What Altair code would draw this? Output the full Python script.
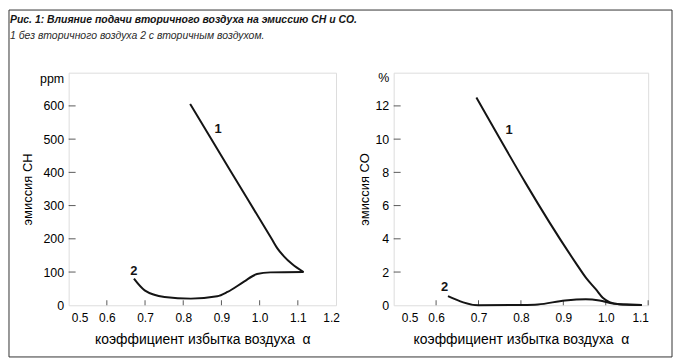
import altair as alt
import pandas as pd

# ---------------- data ----------------
# left panel: CH emission, ppm
ch1_alpha = [0.818, 0.925, 1.033, 1.046, 1.063, 1.085, 1.115]
ch1_ppm = [606, 402, 197, 172, 148, 124, 100]
ch2_alpha = [0.671, 0.699, 0.751, 0.820, 0.889, 0.916, 0.959, 0.993, 1.028, 1.115]
ch2_ppm = [80, 45, 25, 20, 27, 40, 71, 94, 99, 100]

# right panel: CO emission, %
co1_alpha = [0.695, 0.928, 0.955, 0.977, 0.993, 1.009, 1.033, 1.085]
co1_pct = [12.5, 2.6, 1.6, 0.95, 0.45, 0.19, 0.06, 0.02]
co2_alpha = [0.628, 0.700, 0.804, 0.840, 0.904, 0.953, 0.985, 1.017, 1.050, 1.085]
co2_pct = [0.55, 0.0, 0.02, 0.05, 0.29, 0.36, 0.29, 0.11, 0.04, 0.02]

curve_names = ["1", "2"]
ch_label_alpha = [0.891, 0.671]
ch_label_ppm = [530, 104]
co_label_alpha = [0.772, 0.620]
co_label_pct = [10.57, 1.11]

left_x_values = [0.5, 0.6, 0.7, 0.8, 0.9, 1.0, 1.1, 1.2]
left_y_values = [0, 100, 200, 300, 400, 500, 600, 700]
right_x_values = [0.5, 0.6, 0.7, 0.8, 0.9, 1.0, 1.1]
right_y_values = [0, 2, 4, 6, 8, 10, 12, 14]
left_x_ticks = [0.6, 0.7, 0.8, 0.9, 1.0, 1.1]
left_y_ticks = [100, 200, 300, 400, 500, 600]
right_x_ticks = [0.6, 0.7, 0.8, 0.9, 1.0, 1.1]
right_y_ticks = [2, 4, 6, 8, 10, 12]

title_text = "Рис. 1: Влияние подачи вторичного воздуха на эмиссию CH и CO."
subtitle_text = "1 без вторичного воздуха 2 с вторичным воздухом."
x_title = "коэффициент избытка воздуха\u00a0 α"

FONT = "Liberation Sans"
INK = "#141414"
W1, W2, H = 269, 256, 234


def curves_df(a1, v1, a2, v2):
    return pd.DataFrame({
        "alpha": list(a1) + list(a2),
        "val": list(v1) + list(v2),
        "curve": ["1"] * len(a1) + ["2"] * len(a2),
    })


def panel(df, lab_a, lab_v, xdom, ydom, xvals, yvals, xt, yt, ytitle, unit,
          top_val, x_first_off, x_last, x_last_off, unit_off, ytitle_pad):
    xs = alt.Scale(domain=xdom, nice=False, zero=False)
    ys = alt.Scale(domain=ydom, nice=False, zero=False)
    xax = alt.Axis(
        values=xvals, format=".1f", ticks=False, tickSize=0, domain=False, grid=False,
        labelFlush=False, labelOverlap=False, labelPadding=7, labelFontSize=12,
        labelOffset={"condition": [
            {"test": "datum.value == %s" % xdom[0], "value": x_first_off},
            {"test": "datum.value == %s" % x_last, "value": x_last_off}], "value": 0},
        title=x_title, titleFontSize=14, titleFontWeight="normal", titlePadding=9,
    )
    yax = alt.Axis(
        values=yvals, ticks=False, tickSize=0, domain=False, grid=False,
        labelOverlap=False, labelPadding=5, labelFontSize=12.5,
        labelExpr="datum.value == %s ? '%s' : datum.label" % (top_val, unit),
        labelOffset={"condition": {"test": "datum.value == %s" % top_val, "value": unit_off},
                     "value": 0},
        title=ytitle, titleFontSize=13, titleFontWeight="normal", titlePadding=ytitle_pad,
    )
    X = alt.X("alpha:Q", scale=xs, axis=xax)
    Y = alt.Y("val:Q", scale=ys, axis=yax)

    lines = alt.Chart(df).mark_line(
        color=INK, strokeWidth=2, interpolate="monotone"
    ).encode(x=X, y=Y, detail="curve:N")

    labels = alt.Chart(pd.DataFrame({"alpha": lab_a, "val": lab_v, "name": curve_names})).mark_text(
        font=FONT, fontSize=13, fontWeight="bold", color=INK
    ).encode(x=X, y=Y, text="name:N")

    xticks = alt.Chart(pd.DataFrame({"alpha": xt})).mark_tick(
        orient="vertical", size=5, thickness=1, color=INK
    ).encode(x=X, y=alt.value(H - 2.5))

    yticks = alt.Chart(pd.DataFrame({"val": yt})).mark_tick(
        orient="horizontal", size=7, thickness=1, color=INK
    ).encode(y=Y, x=alt.value(3.5))

    return [lines, labels, xticks, yticks]


left_layers = panel(
    curves_df(ch1_alpha, ch1_ppm, ch2_alpha, ch2_ppm), ch_label_alpha, ch_label_ppm,
    [0.5, 1.2], [0, 700], left_x_values, left_y_values, left_x_ticks, left_y_ticks,
    "эмиссия CH", "ppm", 700, 11, 1.2, -5, 6, 5,
)
right_layers = panel(
    curves_df(co1_alpha, co1_pct, co2_alpha, co2_pct), co_label_alpha, co_label_pct,
    [0.5, 1.1], [0, 14], right_x_values, right_y_values, right_x_ticks, right_y_ticks,
    "эмиссия CO", "%", 14, 16, 1.1, -8, 5, 3,
)

# outer frame of the figure (decoration)
frame = alt.Chart(pd.DataFrame({"k": [0]})).mark_rect(
    fillOpacity=0, stroke="#333333", strokeWidth=1
).encode(x=alt.value(-60), x2=alt.value(607), y=alt.value(-63), y2=alt.value(286))

left = alt.layer(frame, *left_layers).properties(width=W1, height=H)
right = alt.layer(*right_layers).properties(width=W2, height=H)

chart = alt.hconcat(left, right, spacing=58, bounds="flush").properties(
    padding=0,
    title=alt.TitleParams(
        text=title_text, subtitle=subtitle_text, anchor="start", frame="bounds",
        dx=2, offset=-33,
        font=FONT, fontSize=10.5, fontStyle="italic", fontWeight="bold",
        color=INK,
        subtitleFont=FONT, subtitleFontSize=10.5,
        subtitleFontStyle="italic", subtitleColor="#2a2a2a", subtitlePadding=6,
    ),
).configure_view(stroke=INK, strokeWidth=1).configure_axis(
    labelFont=FONT, titleFont=FONT, labelColor=INK, titleColor=INK,
).configure(background="white")

chart.save("out.html", embed_options={"renderer": "svg", "actions": False})
